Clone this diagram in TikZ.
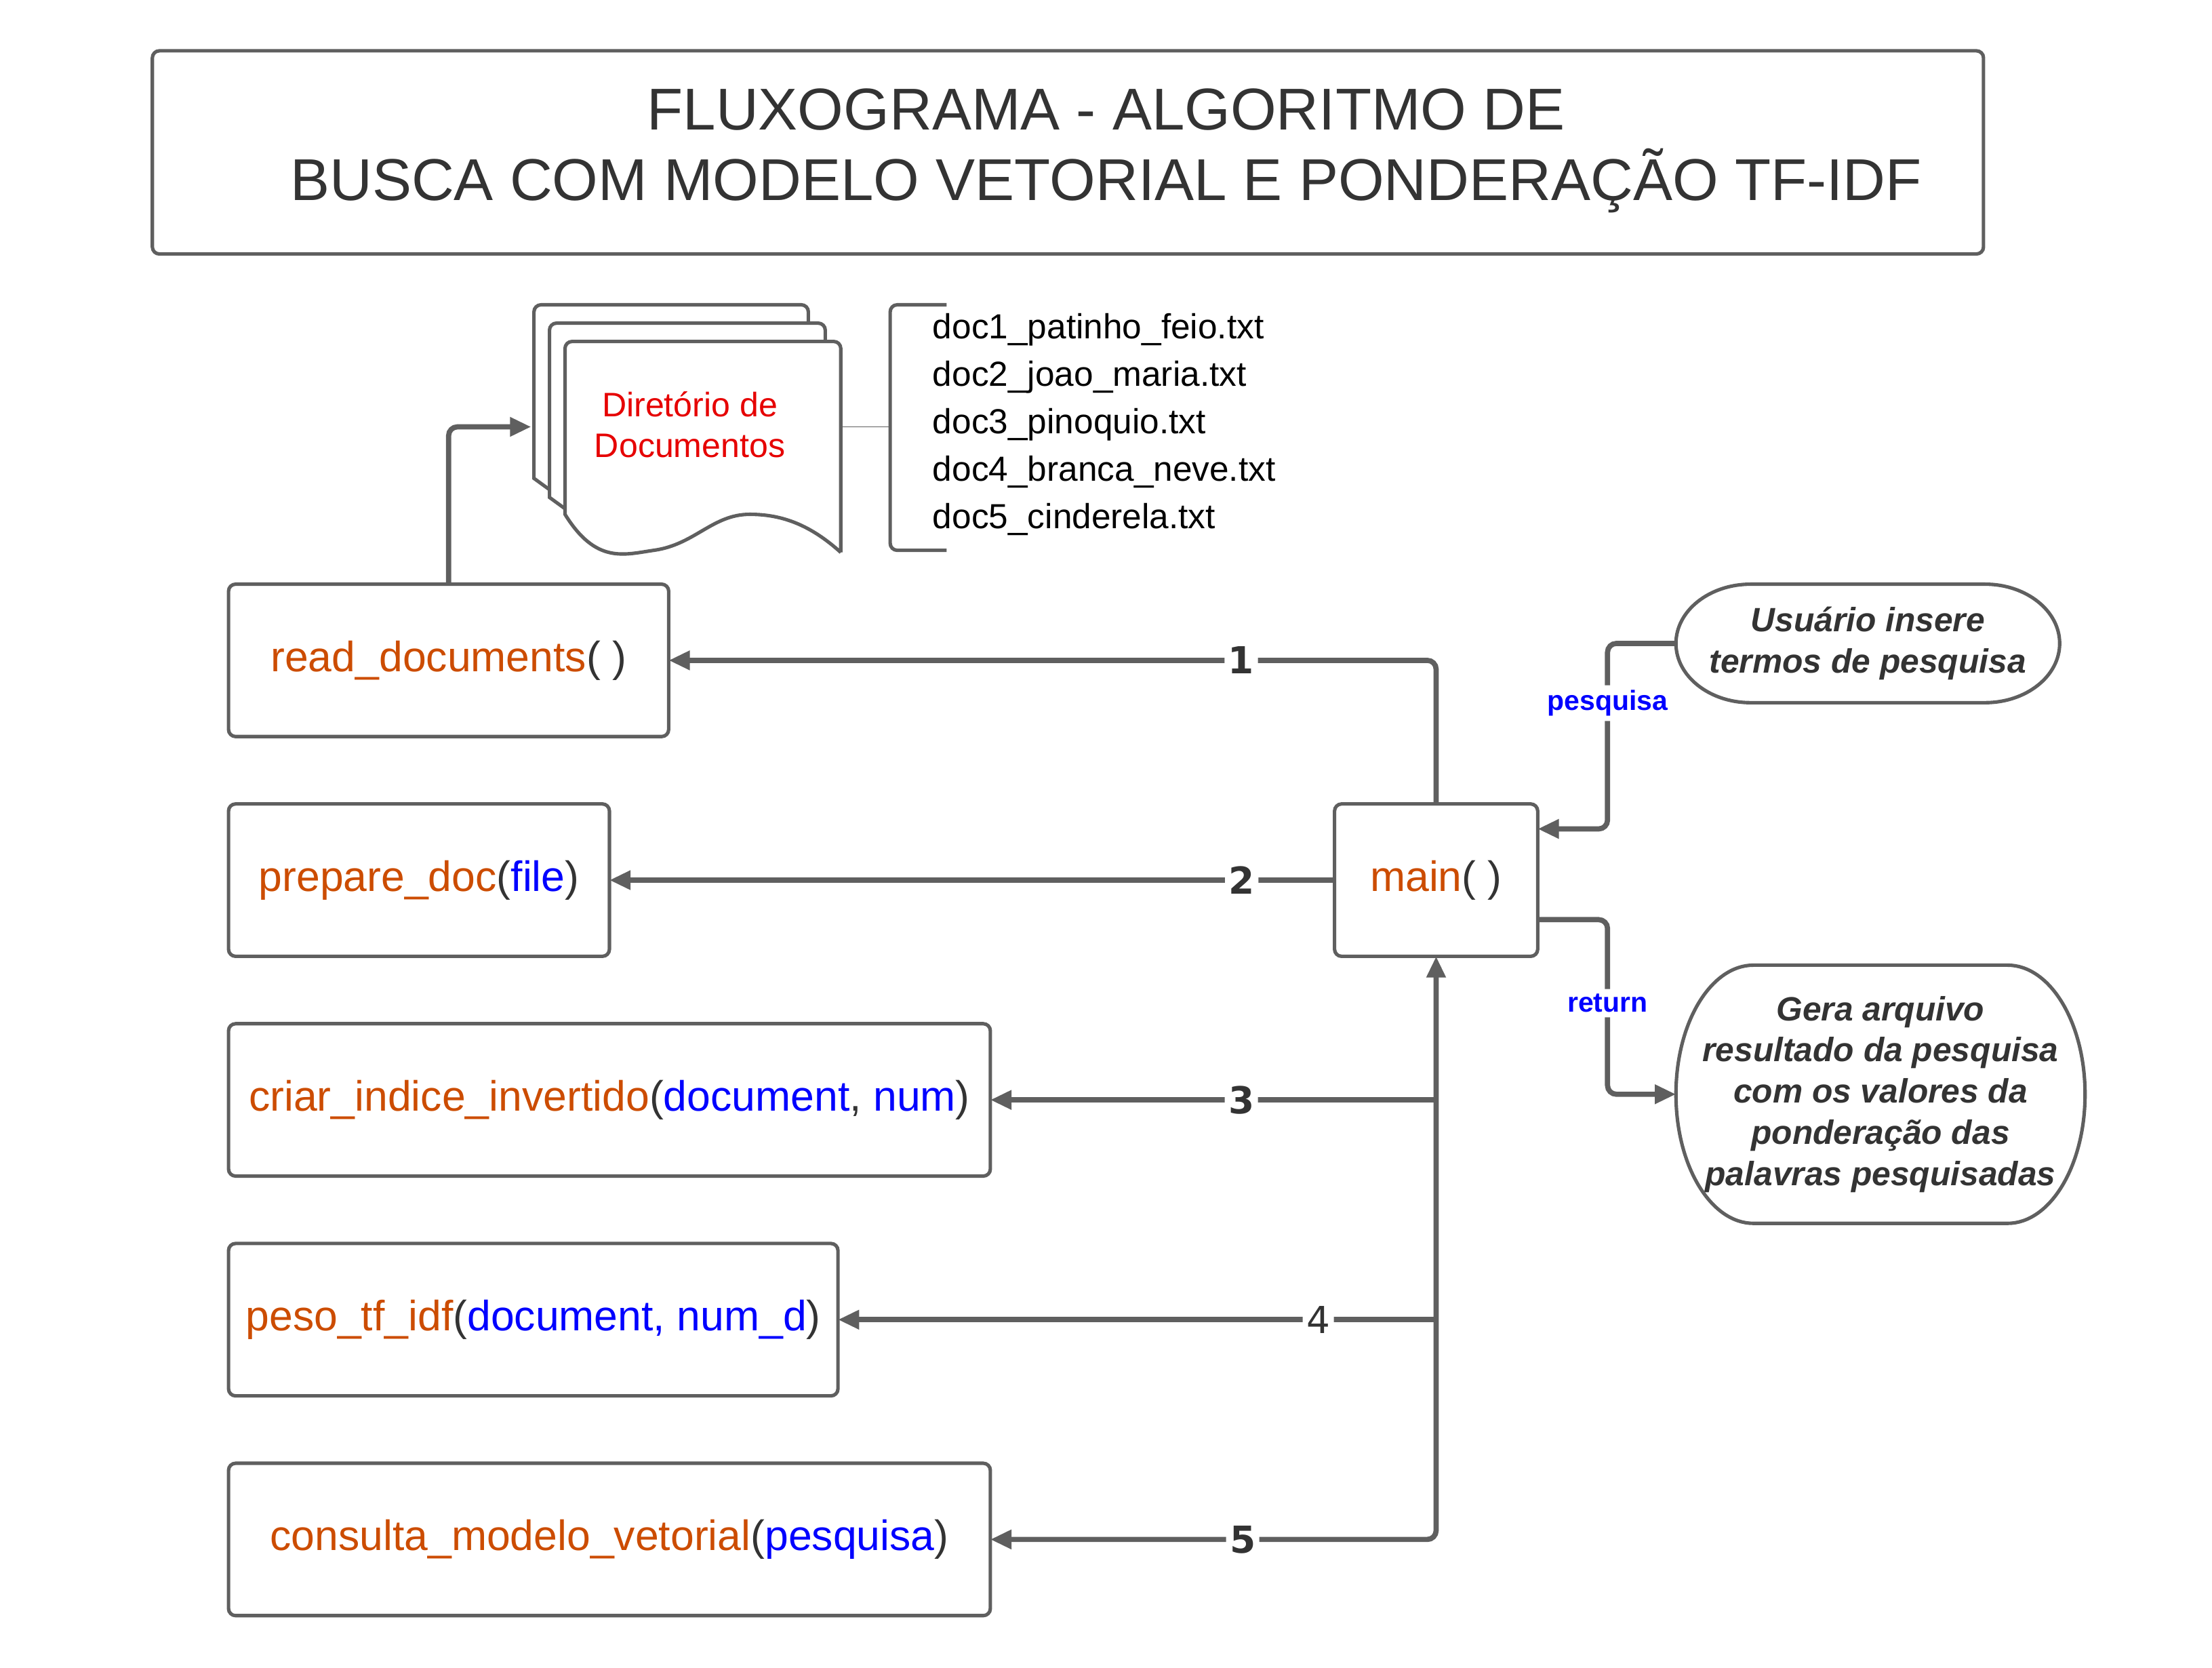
\documentclass[tikz,border=0pt]{standalone}
\usepackage{fontspec}
\setmainfont{Liberation Sans}
\newfontfamily\numfont{DejaVu Sans}
\usetikzlibrary{arrows.meta,positioning,calc}

\definecolor{linegray}{HTML}{5F5F5F}
\definecolor{txtgray}{HTML}{333333}
\definecolor{fnorange}{HTML}{CC4C00}
\definecolor{prmblue}{HTML}{0000FF}
\definecolor{dirred}{HTML}{E60000}

\newcommand{\fnc}[1]{\textcolor{fnorange}{#1}}
\newcommand{\prm}[1]{\textcolor{prmblue}{#1}}
\newcommand{\pillline}[3]{%
  \draw[draw=linegray, line width=1.4pt] ([xshift=#2]#1.north west) -- ([xshift=-#2]#1.north east)
    arc[start angle=90, end angle=0, x radius=#2, y radius=#3]
    -- ([yshift=#3]#1.south east)
    arc[start angle=0, end angle=-90, x radius=#2, y radius=#3]
    -- ([xshift=#2]#1.south west)
    arc[start angle=270, end angle=180, x radius=#2, y radius=#3]
    -- ([yshift=-#3]#1.north west)
    arc[start angle=180, end angle=90, x radius=#2, y radius=#3] -- cycle;}

\begin{document}
\begin{tikzpicture}[>={Triangle[length=0.3cm, width=0.26cm]}, node distance=0.955cm, font=\fontsize{17.1}{20}\selectfont]
        \tikzstyle{boxline}=[draw=linegray, line width=1.4pt]
        \tikzstyle{func}=[boxline, rounded corners=0.1cm, minimum height=2.16cm, inner sep=0pt, outer sep=0pt, text=txtgray]
        \tikzstyle{pill}=[minimum width=5.44cm, minimum height=1.68cm, inner sep=0pt, outer sep=0pt, align=center, text=txtgray, font=\bfseries\itshape\fontsize{13.6}{16.6}\selectfont]
        \tikzstyle{conn}=[draw=linegray, line width=2.1pt, rounded corners=0.125cm]
        \tikzstyle{num}=[fill=white, inner sep=1.5pt, text=txtgray, font=\numfont\bfseries\fontsize{15}{17}\selectfont]
        \tikzstyle{tag}=[fill=white, inner sep=2pt, text=prmblue, font=\bfseries\fontsize{11.2}{13}\selectfont]
        \useasboundingbox (0,0) rectangle (31.36,-23.64);

        \node[boxline, rounded corners=0.1cm, minimum width=25.96cm, minimum height=2.88cm] (Title) at (15.14,-2.16) {};
        \node[align=center, text=txtgray, font=\fontsize{23.8}{28.45}\selectfont] (TitleText) at (15.68,-2.14)
            {FLUXOGRAMA - ALGORITMO DE\\BUSCA COM MODELO VETORIAL E PONDERAÇÃO TF-IDF};

        \draw[boxline] (7.79,-6.94) -- (7.57,-6.78) [rounded corners=0.1cm] -- (7.57,-4.32) -- (11.46,-4.32) [sharp corners] -- (11.46,-4.58);
        \draw[boxline] (8.01,-7.21) -- (7.79,-7.05) [rounded corners=0.1cm] -- (7.79,-4.58) -- (11.70,-4.58) [sharp corners] -- (11.70,-4.84);
        \draw[boxline, fill=white] (11.92,-7.83) [rounded corners=0.1cm] -- (11.92,-4.84) -- (8.01,-4.84) [sharp corners] -- (8.01,-7.29)
            .. controls (8.45,-8.0) and (8.85,-7.86) .. (9.27,-7.80)
            .. controls (9.85,-7.72) and (10.1,-7.29) .. (10.63,-7.29)
            .. controls (11.1,-7.29) and (11.5,-7.45) .. (11.92,-7.83);
        \node[align=center, text=dirred, font=\fontsize{13.7}{16.45}\selectfont] (Dir) at (9.78,-6.02) {Diretório de\\Documentos};
        \coordinate (DirW) at (7.53,-6.05);
        \coordinate (DirE) at (11.92,-6.05);

        \draw[boxline, rounded corners=0.1cm] (13.42,-4.32) -- (12.62,-4.32) -- (12.62,-7.8) -- (13.42,-7.8);
        \coordinate (Brace) at (12.62,-6.05);
        \draw[draw=linegray, line width=0.5pt] (DirE) -- (Brace);
        \node[anchor=west, align=left, font=\fontsize{14.05}{19.15}\selectfont] (Files) at (13.10,-6.02)
            {doc1\_patinho\_feio.txt\\doc2\_joao\_maria.txt\\doc3\_pinoquio.txt\\doc4\_branca\_neve.txt\\doc5\_cinderela.txt};

        \node[func, minimum width=6.24cm, anchor=west] (Read) at (3.24,-9.36) {\fnc{read\_documents}( )};
        \node[func, minimum width=5.4cm, below=of Read.south west, anchor=north west] (Prep) {\fnc{prepare\_doc}(\prm{file})};
        \node[func, minimum width=10.8cm, below=of Prep.south west, anchor=north west] (Indice) {\fnc{criar\_indice\_invertido}(\prm{document}, \prm{num})};
        \node[func, minimum width=8.64cm, below=of Indice.south west, anchor=north west] (Peso) {\fnc{peso\_tf\_idf}(\prm{document, num\_d})};
        \node[func, minimum width=10.8cm, below=of Peso.south west, anchor=north west] (Consulta) {\fnc{consulta\_modelo\_vetorial}(\prm{pesquisa})};
        \node[func, minimum width=2.88cm, right=10.28cm of Prep] (Main) {\fnc{main}( )};

        \node[pill] (User) at (26.48,-9.12) {Usuário insere\\termos de pesquisa};
        \node[pill, minimum width=5.8cm, minimum height=3.66cm] (Gera) at (26.66,-15.51)
            {Gera arquivo\\resultado da pesquisa\\com os valores da\\ponderação das\\palavras pesquisadas};
        \pillline{User}{1.06cm}{0.84cm}
        \pillline{Gera}{1.1cm}{1.83cm}

        \draw[conn, ->] (Read.north) |- (DirW);
        \draw[conn, ->] (Main.north) |- node[num, pos=0.627] {1} (Read.east);
        \draw[conn, ->] (Main.west) -- node[num, pos=0.128] {2} (Prep.east);
        \draw[conn, <->] (Main.south) |- node[num, pos=0.717] {5} (Consulta.east);
        \draw[conn, ->] (Main.south |- Indice.east) -- node[num, pos=0.437] {3} (Indice.east);
        \draw[conn, ->] (Main.south |- Peso.east) -- node[num, pos=0.197, font=\numfont\fontsize{15}{17}\selectfont] {4} (Peso.east);
        \draw[conn, ->] (User.west) -- ++(-0.97,0) |- node[tag, pos=0.161] {pesquisa} ([yshift=0.726cm]Main.east);
        \draw[conn, ->] ([yshift=-0.56cm]Main.east) -- ++(0.99,0) |- node[tag, pos=0.239] {return} (Gera.west);
\end{tikzpicture}
\end{document}
